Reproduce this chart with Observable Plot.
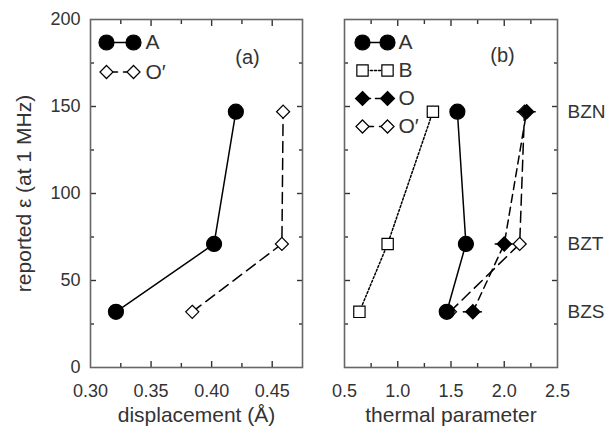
<!DOCTYPE html>
<html><head><meta charset="utf-8">
<script src="https://cdn.jsdelivr.net/npm/d3@7"></script>
<script src="https://cdn.jsdelivr.net/npm/@observablehq/plot@0.6"></script>
<style>
body{margin:0;background:#fff;}
#wrap{display:flex;width:610px;height:426px;overflow:hidden;}
</style>
</head><body><div id="wrap"></div>
<script>
// ---- data ----
const compounds = ["BZS", "BZT", "BZN"];
const eps = [32, 71, 147];
// panel (a): displacement (Å)
const dispA = [0.321, 0.402, 0.420];
const dispOp = [0.384, 0.458, 0.459];
// panel (b): thermal parameter
const thermA = [1.46, 1.64, 1.56];
const thermB = [0.64, 0.905, 1.33];
const thermO = [1.705, 2.00, 2.21];
const thermOp = [1.49, 2.145, 2.19];
const errO = [0.09, 0.085, 0.09];
// ticks
const yLabels = [0, 50, 100, 150, 200];
const yMajor = [50, 100, 150];
const yMinor = [25, 75, 125, 175];
const xLabelsA = [0.30, 0.35, 0.40, 0.45];
const xMajorA = [0.35, 0.40, 0.45];
const xMinorA = [0.325, 0.375, 0.425];
const xLabelsB = [0.5, 1.0, 1.5, 2.0, 2.5];
const xMajorB = [1.0, 1.5, 2.0];
const xMinorB = [0.75, 1.25, 1.75, 2.25];
const legendA = ["A", "O′"];
const legendB = ["A", "B", "O", "O′"];

// ---- styles ----
const S = {
  "A":  {symbol: "circle",   fill: "black", r: 7.5, dash: null},
  "B":  {symbol: "square2",  fill: "white", r: 7.2, dash: "2,2"},
  "O":  {symbol: "diamond2", fill: "black", r: 6.3, dash: "8,5"},
  "O′": {symbol: "diamond2", fill: "white", r: 5.9, dash: "11,6"}
};
const FONT = "'Liberation Sans', Arial, Helvetica, sans-serif";
const style = {fontFamily: FONT, fontSize: "18px", color: "#333", background: "white"};
const seg = {draw(ctx, l) { ctx.moveTo(0, 0); ctx.lineTo(0, -l); }};

const rowsA = compounds.map((c, i) => ({c, eps: eps[i], A: dispA[i], Op: dispOp[i]}));
const rowsB = compounds.map((c, i) => ({c, eps: eps[i], A: thermA[i], B: thermB[i], O: thermO[i], Op: thermOp[i], e: errO[i]}));

function series(rows, key, name) {
  const s = S[name];
  return [
    Plot.line(rows, {x: key, y: "eps", stroke: "black", strokeWidth: 1.5, strokeDasharray: s.dash}),
    Plot.dot(rows, {x: key, y: "eps", symbol: s.symbol, r: s.r, fill: s.fill, stroke: "black", strokeWidth: 1.2})
  ];
}

function legend(items, m1, m2, tx, dy0, step) {
  return items.flatMap((name, i) => {
    const s = S[name];
    const dy = dy0 + i * step;
    return [
      Plot.vector([name], {frameAnchor: "top-left", dx: m1, dy, length: m2 - m1, rotate: 90, anchor: "start", shape: seg, stroke: "black", strokeWidth: 1.5, strokeDasharray: s.dash}),
      Plot.dot([name], {frameAnchor: "top-left", dx: m1, dy, symbol: s.symbol, r: s.r, fill: s.fill, stroke: "black", strokeWidth: 1.2}),
      Plot.dot([name], {frameAnchor: "top-left", dx: m2, dy, symbol: s.symbol, r: s.r, fill: s.fill, stroke: "black", strokeWidth: 1.2}),
      Plot.text([name], {frameAnchor: "top-left", dx: tx, dy, text: d => d, textAnchor: "start", lineAnchor: "middle", fontSize: 21, fill: "#333"})
    ];
  });
}

// inward tick marks on all four sides
function tickMarks(xs, ys, L) {
  const o = {tickSize: -L, tickFormat: () => "", label: null, stroke: "#333", strokeWidth: 1.4};
  return [
    Plot.axisX(xs, {anchor: "bottom", ...o}),
    Plot.axisX(xs, {anchor: "top", ...o}),
    Plot.axisY(ys, {anchor: "left", ...o}),
    Plot.axisY(ys, {anchor: "right", ...o})
  ];
}

const txt = {text: d => d, textAnchor: "middle", lineAnchor: "middle", fill: "#333"};
const frame = Plot.frame({stroke: "#666", strokeWidth: 1.6});

const p1 = Plot.plot({
  width: 310, height: 426,
  marginLeft: 90, marginRight: 8, marginTop: 19, marginBottom: 59,
  style,
  x: {domain: [0.30, 0.475]},
  y: {domain: [0, 200]},
  marks: [
    ...tickMarks(xMajorA, yMajor, 6),
    ...tickMarks(xMinorA, yMinor, 4),
    frame,
    Plot.axisX(xLabelsA, {anchor: "bottom", tickSize: 0, tickPadding: 17, tickFormat: d => d.toFixed(2), label: null}),
    Plot.axisY(yLabels, {anchor: "left", tickSize: 0, tickPadding: 10, label: null}),
    Plot.text(["displacement (Å)"], {frameAnchor: "bottom", dy: 48, fontSize: 21, ...txt}),
    Plot.text(["reported ε (at 1 MHz)"], {frameAnchor: "left", dx: -66, rotate: -90, fontSize: 21, ...txt}),
    Plot.text(["(a)"], {frameAnchor: "top-right", dx: -55, dy: 38, fontSize: 20, ...txt}),
    ...series(rowsA, "Op", "O′"),
    ...series(rowsA, "A", "A"),
    ...legend(legendA, 16, 43, 55, 23, 29.5)
  ]
});

const p2 = Plot.plot({
  width: 300, height: 426,
  marginLeft: 34, marginRight: 53, marginTop: 19, marginBottom: 59,
  style,
  x: {domain: [0.5, 2.5]},
  y: {domain: [0, 200], axis: null},
  marks: [
    ...tickMarks(xMajorB, yMajor, 6),
    ...tickMarks(xMinorB, yMinor, 4),
    frame,
    Plot.axisX(xLabelsB, {anchor: "bottom", tickSize: 0, tickPadding: 17, tickFormat: d => d.toFixed(1), label: null}),
    Plot.text(compounds, {y: (d, i) => eps[i], frameAnchor: "right", dx: 10, text: d => d, textAnchor: "start", lineAnchor: "middle", fontSize: 19, fill: "#333"}),
    Plot.text(["thermal parameter"], {frameAnchor: "bottom", dy: 48, fontSize: 21, ...txt}),
    Plot.text(["(b)"], {frameAnchor: "top-right", dx: -55, dy: 36, fontSize: 20, ...txt}),
    ...series(rowsB, "Op", "O′"),
    ...series(rowsB, "B", "B"),
    Plot.line(rowsB, {x: "O", y: "eps", stroke: "black", strokeWidth: 1.5, strokeDasharray: S["O"].dash}),
    Plot.ruleY(rowsB, {y: "eps", x1: d => d.O - d.e, x2: d => d.O + d.e, stroke: "black", strokeWidth: 1.5}),
    Plot.dot(rowsB, {x: "O", y: "eps", symbol: "diamond2", r: S["O"].r, fill: "black", stroke: "black"}),
    ...series(rowsB, "A", "A"),
    ...legend(legendB, 18, 43, 54, 23, 28)
  ]
});

document.getElementById("wrap").append(p1, p2);
</script>
</body></html>
